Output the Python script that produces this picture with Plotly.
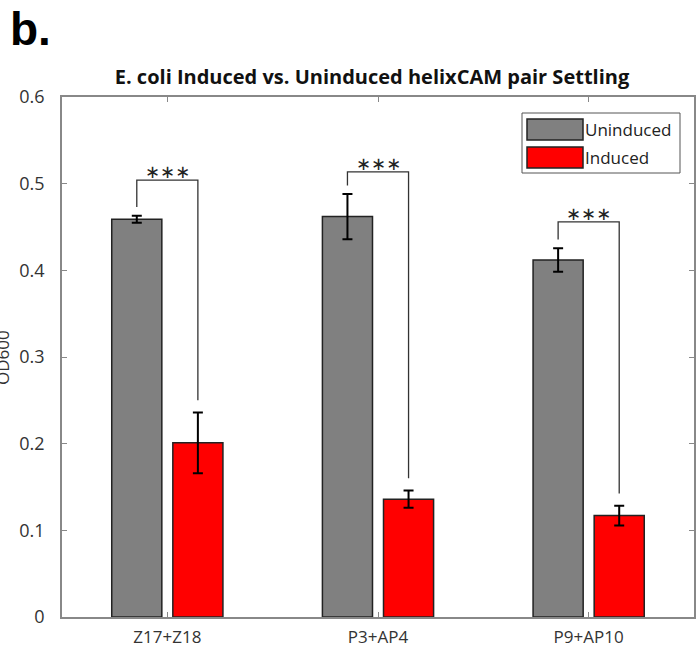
import plotly.graph_objects as go

categories = ["Z17+Z18", "P3+AP4", "P9+AP10"]
uninduced = [0.459, 0.462, 0.412]
uninduced_err = [0.004, 0.026, 0.0135]
induced = [0.201, 0.136, 0.117]
induced_err = [0.035, 0.010, 0.0115]
sig_labels = ["∗∗∗", "∗∗∗", "∗∗∗"]
bracket_y = [0.504, 0.5135, 0.456]
y_ticks = [0, 0.1, 0.2, 0.3, 0.4, 0.5, 0.6]
y_tick_labels = ["0", "0.1", "0.2", "0.3", "0.4", "0.5", "0.6"]

xpos = [1, 2, 3]
GRAY = "#808080"
RED = "#ff0000"
FONT = "Open Sans"

fig = go.Figure()
fig.add_trace(go.Bar(
    x=xpos, y=uninduced, name="Uninduced",
    marker=dict(color=GRAY, line=dict(color="#222222", width=1.5)),
    error_y=dict(type="data", array=uninduced_err, color="black", thickness=2, width=5),
))
fig.add_trace(go.Bar(
    x=xpos, y=induced, name="Induced",
    marker=dict(color=RED, line=dict(color="#222222", width=1.5)),
    error_y=dict(type="data", array=induced_err, color="black", thickness=2, width=5),
))

bargap = 0.42
slot = (1 - bargap) / 2
off = slot / 2

shapes = []
annotations = []
for i, x in enumerate(xpos):
    xl, xr = x - off, x + off
    yl = uninduced[i] + uninduced_err[i] + 0.01
    yr = induced[i] + induced_err[i] + 0.014
    yt = bracket_y[i]
    shapes.append(dict(type="path", xref="x", yref="y",
                       path=f"M {xl} {yl} L {xl} {yt} L {xr} {yt} L {xr} {yr}",
                       line=dict(color="#333333", width=1.3)))
    annotations.append(dict(x=x, y=yt, xref="x", yref="y", text=sig_labels[i],
                            showarrow=False, yanchor="bottom", yshift=-4,
                            font=dict(family="DejaVu Sans", size=18, color="#222222")))

def px2paper_x(px):
    return (px - 62) / 632
def px2paper_y(py):
    return (617 - py) / 520

shapes.append(dict(type="rect", xref="paper", yref="paper",
                   x0=px2paper_x(522), x1=px2paper_x(680), y0=px2paper_y(173), y1=px2paper_y(113),
                   line=dict(color="#555555", width=1), fillcolor="white"))
for name, col, yc in [("Uninduced", GRAY, 129.5), ("Induced", RED, 157.5)]:
    shapes.append(dict(type="rect", xref="paper", yref="paper",
                       x0=px2paper_x(527), x1=px2paper_x(583),
                       y0=px2paper_y(yc + 10.5), y1=px2paper_y(yc - 10.5),
                       line=dict(color="#222222", width=1.5), fillcolor=col))
    annotations.append(dict(x=px2paper_x(583), y=px2paper_y(yc), xref="paper", yref="paper",
                            text=name, showarrow=False, xanchor="left", yanchor="middle",
                            font=dict(family=FONT, size=17, color="#222222")))

annotations.append(dict(x=-60 / 632, y=0.5, xref="paper", yref="paper", text="OD600",
                        textangle=-90, showarrow=False, xanchor="center", yanchor="middle",
                        font=dict(family=FONT, size=17, color="#333333")))
annotations.append(dict(x=-54 / 632, y=1 + 97 / 520 - 1 / 520, xref="paper", yref="paper",
                        text="<b>b.</b>", showarrow=False, xanchor="left", yanchor="top",
                        font=dict(family="Liberation Sans", size=46, color="black")))

fig.update_layout(
    width=697, height=649,
    margin=dict(l=62, r=3, t=97, b=32),
    paper_bgcolor="white", plot_bgcolor="white",
    barmode="group", bargap=bargap, bargroupgap=0.18,
    showlegend=False,
    title=dict(text="<b>E. coli Induced vs. Uninduced helixCAM pair Settling</b>",
               x=(62 + 310) / 697, xanchor="center", y=1 - 77 / 649, yanchor="middle",
               font=dict(family=FONT, size=20, color="#111111")),
    shapes=shapes, annotations=annotations,
    font=dict(family=FONT),
)
fig.update_xaxes(range=[0.5, 3.5], tickvals=xpos, ticktext=categories,
                 ticks="inside", ticklen=5, tickcolor="#888888", automargin=False,
                 ticklabelstandoff=4,
                 showline=True, linecolor="#888888", linewidth=1.5, mirror="ticks",
                 showgrid=False, zeroline=False,
                 tickfont=dict(family=FONT, size=17, color="#333333"))
fig.update_yaxes(range=[0, 0.6], tickvals=y_ticks, ticktext=y_tick_labels,
                 ticks="inside", ticklen=5, tickcolor="#888888", automargin=False,
                 ticklabelstandoff=12,
                 showline=True, linecolor="#888888", linewidth=1.5, mirror="ticks",
                 showgrid=False, zeroline=False,
                 tickfont=dict(family=FONT, size=18, color="#333333"))

fig.write_html("out.html", config={"displayModeBar": False},
               post_script="document.body.style.margin='0px';")
